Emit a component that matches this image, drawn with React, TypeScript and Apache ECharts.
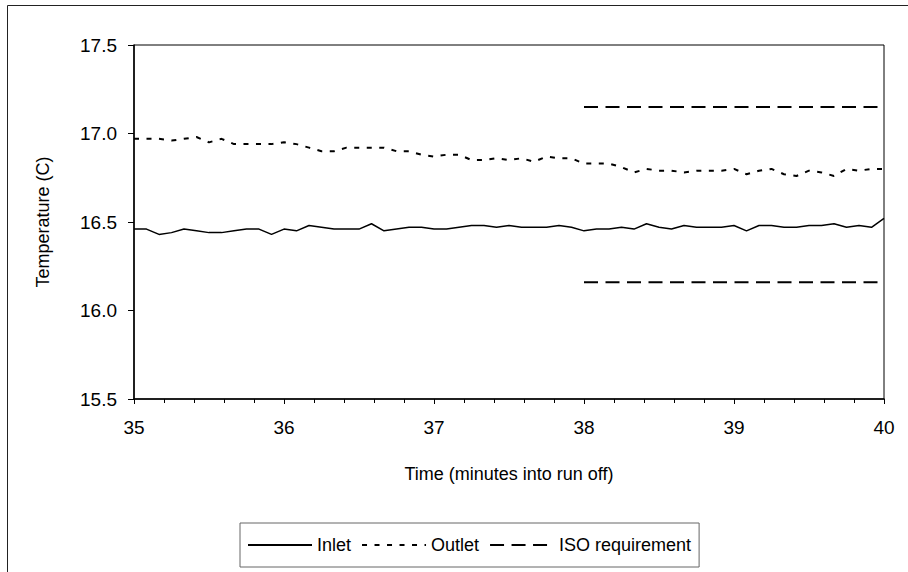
import React, { useEffect, useRef } from "react";
import * as echarts from "echarts";

// Sampling: one reading every 5 seconds from 35 to 40 minutes into run off
const startMinute = 35;
const sampleSeconds = 5;

const inletTemps = [
  16.46, 16.46, 16.43, 16.44, 16.46, 16.45, 16.44, 16.44, 16.45, 16.46,
  16.46, 16.43, 16.46, 16.45, 16.48, 16.47, 16.46, 16.46, 16.46, 16.49,
  16.45, 16.46, 16.47, 16.47, 16.46, 16.46, 16.47, 16.48, 16.48, 16.47,
  16.48, 16.47, 16.47, 16.47, 16.48, 16.47, 16.45, 16.46, 16.46, 16.47,
  16.46, 16.49, 16.47, 16.46, 16.48, 16.47, 16.47, 16.47, 16.48, 16.45,
  16.48, 16.48, 16.47, 16.47, 16.48, 16.48, 16.49, 16.47, 16.48, 16.47,
  16.52,
];

const outletTemps = [
  16.97, 16.97, 16.97, 16.96, 16.97, 16.98, 16.95, 16.97, 16.94, 16.94,
  16.94, 16.94, 16.95, 16.94, 16.92, 16.90, 16.90, 16.92, 16.92, 16.92,
  16.92, 16.90, 16.90, 16.88, 16.87, 16.88, 16.88, 16.85, 16.85, 16.86,
  16.85, 16.86, 16.84, 16.87, 16.86, 16.86, 16.83, 16.83, 16.83, 16.81,
  16.78, 16.80, 16.79, 16.79, 16.78, 16.79, 16.79, 16.79, 16.80, 16.77,
  16.79, 16.80, 16.77, 16.76, 16.79, 16.78, 16.76, 16.80, 16.79, 16.80,
  16.80,
];

const isoTimes = [38, 40];
const isoUpper = [17.15, 17.15];
const isoLower = [16.16, 16.16];

const seriesNames = ["Inlet", "Outlet", "ISO requirement"];
const xAxisTitle = "Time (minutes into run off)";
const yAxisTitle = "Temperature (C)";

const FONT = "'Liberation Sans', Arial, sans-serif";

export default function App() {
  const ref = useRef<HTMLDivElement>(null);

  useEffect(() => {
    if (!ref.current) return;
    const chart = echarts.init(ref.current, null, { renderer: "svg" });

    const toPairs = (vals: number[]) =>
      vals.map((v, i) => [startMinute + (i * sampleSeconds) / 60, v]);
    const isoPairs = (vals: number[]) => isoTimes.map((t, i) => [t, vals[i]]);

    const option: any = {
      animation: false,
      backgroundColor: "#fff",
      textStyle: { fontFamily: FONT, color: "#000" },
      graphic: [
        {
          type: "rect",
          shape: { x: 7.5, y: 5.5, width: 2000, height: 2000 },
          style: { fill: "none", stroke: "#222", lineWidth: 1 },
          silent: true,
        },
      ],
      grid: {
        left: 134,
        right: 24,
        top: 45,
        bottom: 173,
        show: true,
        borderColor: "#000",
        borderWidth: 1,
        backgroundColor: "transparent",
      },
      legend: {
        data: seriesNames,
        left: 240,
        top: 523,
        itemWidth: 64,
        itemHeight: 14,
        itemGap: 10,
        padding: [13, 8, 13, 7],
        borderColor: "#666",
        borderWidth: 1,
        itemStyle: { opacity: 0 },
        textStyle: { fontSize: 18, color: "#000", fontFamily: FONT },
      },
      xAxis: {
        type: "value",
        min: 35,
        max: 40,
        interval: 1,
        splitNumber: 5,
        name: xAxisTitle,
        nameLocation: "middle",
        nameGap: 66,
        nameTextStyle: { fontSize: 18, color: "#000", fontFamily: FONT },
        axisLine: { show: true, onZero: false, lineStyle: { color: "#000", width: 1.5 } },
        axisTick: { show: true, length: 5, lineStyle: { color: "#000", width: 1 } },
        minorTick: { show: true, splitNumber: 5, length: 4, lineStyle: { color: "#000", width: 1 } },
        splitLine: { show: false },
        minorSplitLine: { show: false },
        axisLabel: {
          fontSize: 19,
          color: "#000",
          fontFamily: FONT,
          margin: 19,
          formatter: (v: number) => String(Math.round(v)),
        },
      },
      yAxis: {
        type: "value",
        min: 15.5,
        max: 17.5,
        interval: 0.5,
        name: yAxisTitle,
        nameLocation: "middle",
        nameGap: 82,
        nameTextStyle: { fontSize: 18, color: "#000", fontFamily: FONT },
        axisLine: { show: true, onZero: false, lineStyle: { color: "#000", width: 1.5 } },
        axisTick: { show: true, length: 6, lineStyle: { color: "#000", width: 1 } },
        splitLine: { show: false },
        axisLabel: {
          fontSize: 19,
          color: "#000",
          fontFamily: FONT,
          margin: 17,
          formatter: (v: number) => v.toFixed(1),
        },
      },
      series: [
        {
          name: seriesNames[0],
          type: "line",
          data: toPairs(inletTemps),
          symbol: "none",
          lineStyle: { color: "#000", width: 1.5, type: "solid" },
          itemStyle: { color: "#000" },
        },
        {
          name: seriesNames[1],
          type: "line",
          data: toPairs(outletTemps),
          symbol: "none",
          lineStyle: { color: "#000", width: 2, type: [5, 7.5] },
          itemStyle: { color: "#000" },
        },
        {
          name: seriesNames[2],
          type: "line",
          data: isoPairs(isoUpper),
          symbol: "none",
          lineStyle: { color: "#000", width: 2, type: [14, 7.5] },
          itemStyle: { color: "#000" },
        },
        {
          name: seriesNames[2],
          type: "line",
          data: isoPairs(isoLower),
          symbol: "none",
          lineStyle: { color: "#000", width: 2, type: [14, 7.5] },
          itemStyle: { color: "#000" },
        },
      ],
    };

    chart.setOption(option);
    return () => chart.dispose();
  }, []);

  return (
    <div
      ref={ref}
      style={{ position: "fixed", left: 0, top: 0, width: 908, height: 572, background: "#fff" }}
    />
  );
}
